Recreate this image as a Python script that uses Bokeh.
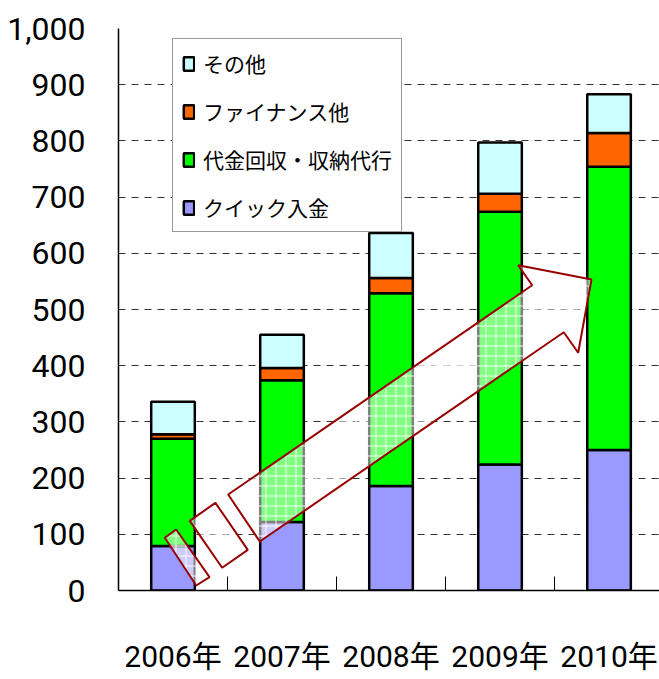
from bokeh.plotting import figure
from bokeh.models import (Range1d, FixedTicker, NumeralTickFormatter, Legend,
                          LegendItem, ColumnDataSource)
from bokeh.embed import file_html
from bokeh.resources import INLINE

# ---- data ----
years = ["2006年", "2007年", "2008年", "2009年", "2010年"]
quick = [79, 122, 186, 224, 250]          # クイック入金
collection = [191, 252, 343, 450, 504]    # 代金回収・収納代行
finance = [8, 22, 27, 32, 60]             # ファイナンス他
other = [58, 59, 80, 91, 69]              # その他
series_names = ["クイック入金", "代金回収・収納代行", "ファイナンス他", "その他"]
series_colors = ["#9999FF", "#00FF00", "#FF6600", "#CCFFFF"]
y_ticks = list(range(0, 1001, 100))

# decorative broken arrow (x in category units, y in value units)
arrow_xs = [[-0.075, 0.029, 0.335, 0.213],
            [0.154, 0.389, 0.686, 0.451],
            [0.506, 3.295, 3.167, 3.839, 3.717, 3.585, 0.796]]
arrow_ys = [[93.8, 108.5, 23.7, 8.9],
            [124.0, 156.0, 72.4, 40.4],
            [170.8, 543.2, 578.8, 553.4, 423.0, 459.6, 87.2]]

NUM_FONT = "Roboto, Noto Sans CJK JP, sans-serif"
JP_FONT = "Noto Sans CJK JP"

x_pos = list(range(len(years)))
source = ColumnDataSource(data=dict(x=x_pos, q=quick, c=collection, f=finance, o=other))

p = figure(frame_width=541, frame_height=562, output_backend="svg",
           toolbar_location=None, x_range=Range1d(-0.5, 4.463),
           y_range=Range1d(0, 1000))
p.min_border_left = 118
p.min_border_top = 28
p.min_border_right = 0
p.min_border_bottom = 89
p.outline_line_color = None
p.background_fill_color = "white"
p.border_fill_color = "white"

renderers = p.vbar_stack(["q", "c", "f", "o"], x="x", width=0.4, source=source,
                         fill_color=series_colors, line_color="black", line_width=2.5)

p.patches(arrow_xs, arrow_ys, fill_color="white", fill_alpha=0.5,
          hatch_pattern="+", hatch_color="white", hatch_alpha=0.9,
          hatch_scale=10, hatch_weight=1,
          line_color="#990000", line_width=2)

# axes
xa = p.xaxis[0]
xa.ticker = FixedTicker(ticks=x_pos, minor_ticks=[0.5, 1.5, 2.5, 3.5])
xa.major_label_overrides = {i: y for i, y in zip(x_pos, years)}
xa.major_tick_line_color = None
xa.major_tick_in = 0
xa.major_tick_out = 0
xa.minor_tick_in = 14
xa.minor_tick_out = 0
xa.minor_tick_line_color = "black"
xa.minor_tick_line_width = 1
xa.axis_line_color = "black"
xa.axis_line_width = 1.5
xa.major_label_standoff = 48
xa.major_label_text_font = NUM_FONT
xa.major_label_text_font_size = "30px"
xa.major_label_text_color = "black"

ya = p.yaxis[0]
ya.ticker = FixedTicker(ticks=y_ticks)
ya.formatter = NumeralTickFormatter(format="0,0")
ya.major_tick_line_color = None
ya.major_tick_in = 0
ya.major_tick_out = 0
ya.minor_tick_line_color = None
ya.axis_line_color = "black"
ya.axis_line_width = 1.5
ya.major_label_standoff = 33
ya.major_label_text_font = NUM_FONT
ya.major_label_text_font_size = "32px"
ya.major_label_text_color = "black"

p.xgrid.grid_line_color = None
p.ygrid.ticker = FixedTicker(ticks=y_ticks)
p.ygrid.grid_line_color = "#333333"
p.ygrid.grid_line_dash = "7 6"
p.ygrid.grid_line_width = 1

items = [LegendItem(label=n, renderers=[r]) for n, r in zip(series_names, renderers)]
items.reverse()
legend = Legend(items=items, location=(54, 358), margin=0, padding=9,
                spacing=18, label_height=22, glyph_width=13, glyph_height=17,
                label_standoff=8, label_text_font=JP_FONT,
                label_text_font_size="21px", label_text_color="black",
                border_line_color="#333333", border_line_width=1,
                background_fill_color="white", background_fill_alpha=1.0)
p.add_layout(legend)

open("out.html", "w").write(file_html(p, INLINE))
